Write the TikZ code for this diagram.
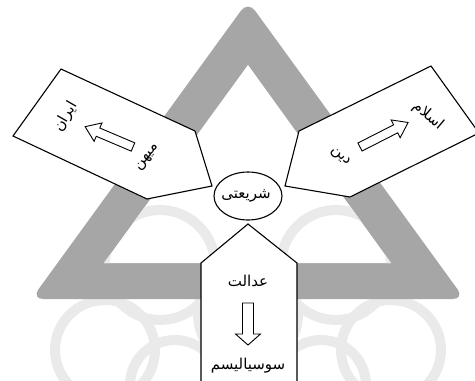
\documentclass[tikz,border=0pt]{standalone}
\usepackage{fontspec}
\usetikzlibrary{shapes.geometric}
\newfontfamily\fa[Script=Arabic]{DejaVu Sans}
\TeXXeTstate=1
\definecolor{band}{RGB}{166,166,166}
\definecolor{wmark}{RGB}{234,234,234}
\newcommand\myblockarrow[7]{% x y angle length shafthalf headhalf headlen
  \draw[arr, shift={(#1,#2)}, rotate=#3]
    (0,-#5) -- ({#4-#7},-#5) -- ({#4-#7},-#6) -- (#4,0) -- ({#4-#7},#6) -- ({#4-#7},#5) -- (0,#5) -- cycle;}
\begin{document}
\begin{tikzpicture}[x=1pt,y=-1pt,
  box/.style={draw=black, fill=white, line width=1.1pt, line join=miter},
  arr/.style={draw=black, fill=white, line width=0.9pt, line join=miter},
  wm/.style={draw=wmark, line width=10pt},
  lbl/.style={font=\fa\fontsize{15}{17}\selectfont, inner sep=0pt}]
\useasboundingbox (0,0) rectangle (475,381);
\clip (0,0) rectangle (475,381);
% faint watermark
\draw[wm] (160,265) circle[radius=55];
\draw[wm] (336,265) circle[radius=55];
\draw[wm] (105,350) circle[radius=50];
\draw[wm] (391,350) circle[radius=50];
\draw[wm] (248,315) circle[radius=50];
\draw[wm] (175,385) circle[radius=45];
\draw[wm] (321,385) circle[radius=45];
% gray triangle band
\fill[band, rounded corners=12pt] (248,1) -- (464.6,299) -- (31.4,299) -- cycle;
\fill[white] (248,65) -- (391,263) -- (104,263) -- cycle;
\begin{scope}
\clip (248,65) -- (391,263) -- (104,263) -- cycle;
\draw[wm] (160,265) circle[radius=55];
\draw[wm] (336,265) circle[radius=55];
\end{scope}
% left box
\draw[box] (61,69) -- (195,131) -- (212,186) -- (147,199) -- (13,136) -- cycle;
% right box
\draw[box] (431,66) -- (479,133) -- (350,197) -- (285,186) -- (299,131) -- cycle;
% bottom box
\draw[box] (248,224) -- (297,263) -- (297,395) -- (201,395) -- (201,263) -- cycle;
% centre
\node[ellipse, draw=black, fill=white, line width=1.1pt, minimum width=68pt, minimum height=48pt, inner sep=0pt] (sh) at (248,196) {};
\node[lbl] (shT) at (246,196) {\beginR شریعتی\endR};
% texts
\node[lbl] (ad) at (248,281) {\beginR عدالت\endR};
\node[lbl] (so) at (248,366) {\beginR سوسیالیسم\endR};
\node[lbl, rotate=60] (ir) at (66,117) {\beginR ایران\endR};
\node[lbl, rotate=52] (mi) at (148,158) {\beginR میهن\endR};
\node[lbl, rotate=-40] (is) at (428,116) {\beginR اسلام\endR};
\node[lbl, rotate=-42] (di) at (340,157) {\beginR دین\endR};
% block arrows
\myblockarrow{248}{303}{-90}{42}{5.5}{12.5}{11}
\myblockarrow{133}{147}{157}{52}{4.5}{10}{14}
\myblockarrow{360}{147}{27}{54}{4.5}{10}{14}
\end{tikzpicture}
\end{document}
